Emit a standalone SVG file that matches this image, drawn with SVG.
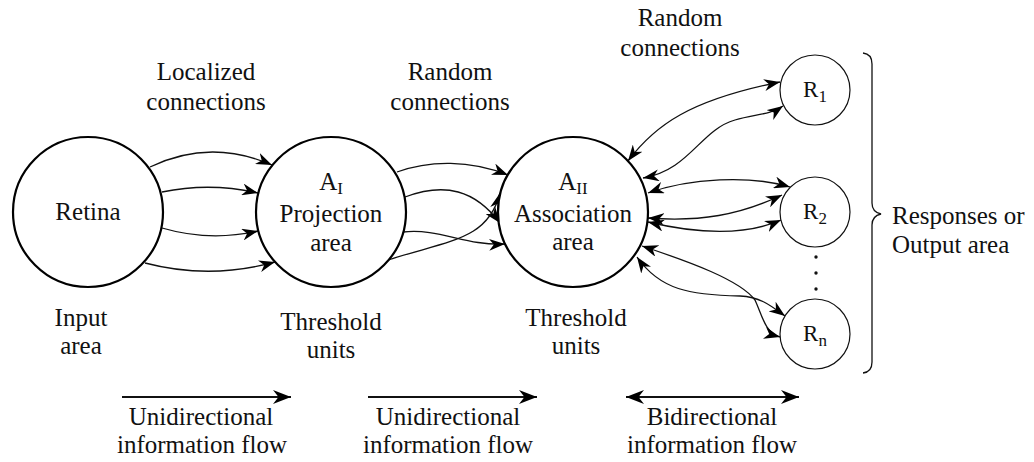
<svg xmlns="http://www.w3.org/2000/svg" width="1034" height="462" viewBox="0 0 1034 462">
<style>
text{font-family:"Liberation Serif","DejaVu Serif",serif;fill:#111;}
.t{font-size:25px;text-anchor:middle;}
.ts{font-size:25px;text-anchor:start;}
.r{font-size:23px;text-anchor:middle;}
.big{fill:#fff;stroke:#000;stroke-width:2.2;}
.small{fill:#fff;stroke:#111;stroke-width:1.2;}
.c{fill:none;stroke:#111;stroke-width:1.3;}
.uni{marker-end:url(#head);}
.bi{marker-start:url(#head);marker-end:url(#head);}
.lg{fill:none;stroke:#111;stroke-width:1.8;}
.luni{marker-end:url(#lhead);}
.lbi{marker-start:url(#lhead);marker-end:url(#lhead);}
</style>
<defs>
<marker id="head" viewBox="0 0 16 12" refX="16" refY="6" markerWidth="16" markerHeight="12" markerUnits="userSpaceOnUse" orient="auto-start-reverse">
<path d="M16,6 L0,0 L4.8,6 L0,12 Z" fill="#000"/>
</marker>
<marker id="lhead" viewBox="0 0 18 14" refX="18" refY="7" markerWidth="18" markerHeight="14" markerUnits="userSpaceOnUse" orient="auto-start-reverse">
<path d="M18,7 L0,0 L5.5,7 L0,14 Z" fill="#000"/>
</marker>
</defs>
<rect width="1034" height="462" fill="#fff"/>

<g id="connectors">
<path class="c uni" d="M150,167 Q210,138 272,165"/>
<path class="c uni" d="M162,192 Q210,182 258,193"/>
<path class="c uni" d="M162,228 Q210,242 258,231"/>
<path class="c uni" d="M145,263 Q210,280 275,262"/>
<path class="c uni" d="M397,172 C430,160 470,160 508,175"/>
<path class="c uni" d="M405,197 C445,182 475,190 500,223"/>
<path class="c uni" d="M403,232 C440,228 465,246 505,244"/>
<path class="c uni" d="M388,260 C450,240 488,240 500,193"/>
<path class="c bi" d="M628,161 C655,125 690,100 780,82"/>
<path class="c bi" d="M643,178 C690,170 700,130 735,120 C755,114 770,115 783,106"/>
<path class="c bi" d="M648,193 C690,178 750,175 790,187"/>
<path class="c bi" d="M648,218 C700,222 740,215 782,195"/>
<path class="c bi" d="M648,222 C690,232 740,238 781,220"/>
<path class="c bi" d="M642,246 C690,262 740,280 755,300 C762,315 765,333 780,337"/>
<path class="c bi" d="M637,257 C660,290 690,295 740,296 C760,297 770,305 785,316"/>
</g>

<g id="retina">
<circle class="big" cx="88" cy="212" r="75"/>
<text class="t" x="88" y="220">Retina</text>
</g>
<g id="ai">
<circle class="big" cx="331" cy="212" r="75"/>
<text class="t" x="331" y="190">A<tspan font-size="17" dy="4">I</tspan></text>
<text class="t" x="331" y="222">Projection</text>
<text class="t" x="331" y="251">area</text>
</g>
<g id="aii">
<circle class="big" cx="573" cy="212" r="75"/>
<text class="t" x="573" y="190">A<tspan font-size="17" dy="4">II</tspan></text>
<text class="t" x="573" y="222">Association</text>
<text class="t" x="573" y="250">area</text>
</g>
<g id="r1">
<circle class="small" cx="815" cy="90" r="35"/>
<text class="r" x="815" y="97">R<tspan font-size="17" dy="5">1</tspan></text>
</g>
<g id="r2">
<circle class="small" cx="815" cy="212" r="35"/>
<text class="r" x="815" y="219">R<tspan font-size="17" dy="5">2</tspan></text>
</g>
<g id="rn">
<circle class="small" cx="815" cy="334" r="35"/>
<text class="r" x="815" y="341">R<tspan font-size="17" dy="5">n</tspan></text>
</g>
<g id="dots" fill="#111">
<circle cx="816" cy="257" r="1.7"/>
<circle cx="816" cy="273" r="1.7"/>
<circle cx="816" cy="289" r="1.7"/>
</g>

<g id="brace">
<path d="M863,53 Q872,54 872,64 L872,203 Q872,212 881,214 Q872,216 872,225 L872,362 Q872,372 863,373" fill="none" stroke="#111" stroke-width="1.3"/>
<text class="ts" x="892" y="224">Responses or</text>
<text class="ts" x="892" y="253">Output area</text>
</g>

<g id="labels">
<text class="t" x="206" y="80">Localized</text>
<text class="t" x="206" y="110">connections</text>
<text class="t" x="450" y="80">Random</text>
<text class="t" x="450" y="110">connections</text>
<text class="t" x="680" y="26">Random</text>
<text class="t" x="680" y="56">connections</text>
<text class="t" x="81" y="326">Input</text>
<text class="t" x="81" y="354">area</text>
<text class="t" x="331" y="330">Threshold</text>
<text class="t" x="331" y="358">units</text>
<text class="t" x="576" y="326">Threshold</text>
<text class="t" x="576" y="354">units</text>
</g>

<g id="legend">
<path class="lg luni" d="M122,397 L291,397"/>
<path class="lg luni" d="M368,397 L537,397"/>
<path class="lg lbi" d="M626,397 L799,397"/>
<text class="t" x="201" y="425">Unidirectional</text>
<text class="t" x="202" y="453">information flow</text>
<text class="t" x="448" y="425">Unidirectional</text>
<text class="t" x="448" y="453">information flow</text>
<text class="t" x="712" y="425">Bidirectional</text>
<text class="t" x="712" y="453">information flow</text>
</g>
</svg>
